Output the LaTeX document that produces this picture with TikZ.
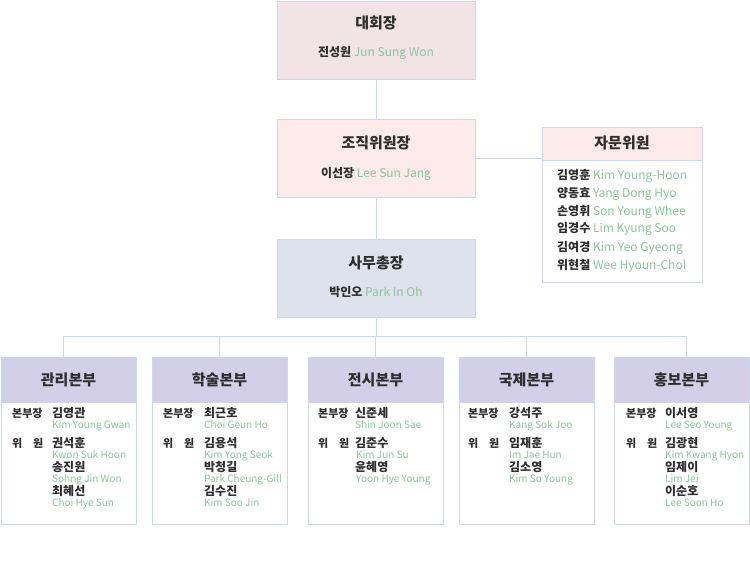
\documentclass[tikz,border=0pt]{standalone}
\usepackage{fontspec}
\setmainfont{Noto Sans CJK KR}
\usepackage{xcolor}
\usetikzlibrary{positioning,calc}

\definecolor{edgeblue}{HTML}{C9D8EE}
\definecolor{chairpink}{HTML}{F2E4E6}
\definecolor{orgpink}{HTML}{FDEAEA}
\definecolor{secgray}{HTML}{DEE2EC}
\definecolor{deptlilac}{HTML}{D3CFE8}
\definecolor{inkgray}{HTML}{2E2E2E}
\definecolor{romangreen}{HTML}{8CC49C}

\newcommand{\engname}[1]{\textcolor{romangreen}{\mdseries #1}}

\begin{document}
\begin{tikzpicture}[
    x=1pt, y=-1pt,
    topbox/.style = {rectangle, draw=edgeblue, line width=0.8pt, outer sep=0pt, minimum width=198pt, minimum height=78pt, inner sep=0pt, anchor=north west},
    deptbox/.style = {rectangle, draw=edgeblue, line width=0.8pt, outer sep=0pt, fill=white, minimum width=135pt, minimum height=167pt, inner sep=0pt, anchor=north west},
    headbox/.style = {rectangle, draw=edgeblue, line width=0.8pt, outer sep=0pt, fill=#1, minimum height=45pt, inner sep=0pt, anchor=north},
    heading/.style = {inner sep=0pt, anchor=base, text=inkgray, font=\fontsize{15}{18}\selectfont\bfseries},
    person/.style = {inner sep=0pt, anchor=base, text=inkgray, font=\fontsize{12}{14}\selectfont\bfseries},
    role/.style = {inner sep=0pt, anchor=base west, text=inkgray, font=\fontsize{11}{13}\selectfont\bfseries},
    kname/.style = {inner sep=0pt, anchor=base west, text=inkgray, font=\fontsize{12}{14}\selectfont\bfseries},
    rname/.style = {inner sep=0pt, anchor=base west, text=romangreen, font=\fontsize{10}{12}\selectfont},
    link/.style = {draw=edgeblue, line width=0.8pt}
]
    \useasboundingbox (0,0) rectangle (750,567);

    % 1. Top chain
    \node [topbox, fill=chairpink] (chair) at (277,1) {};
    \node [heading] (chair_t) at ($(chair.north)+(0,28)$) {대회장};
    \node [person] (chair_n) at ($(chair.north)+(0,56)$) {전성원 \engname{Jun Sung Won}};

    \node [topbox, fill=orgpink, below=40pt of chair] (org) {};
    \node [heading] (org_t) at ($(org.north)+(0,30)$) {조직위원장};
    \node [person] (org_n) at ($(org.north)+(0,59)$) {이선장 \engname{Lee Sun Jang}};

    \node [topbox, fill=secgray, below=42pt of org] (sec) {};
    \node [heading] (sec_t) at ($(sec.north)+(0,29)$) {사무총장};
    \node [person] (sec_n) at ($(sec.north)+(0,57)$) {박인오 \engname{Park In Oh}};

    % 2. Advisory board
    \node [rectangle, draw=edgeblue, line width=0.8pt, outer sep=0pt, fill=white, minimum width=160pt, minimum height=155pt, anchor=north west] (adv) at (542,127) {};
    \node [headbox=orgpink, minimum width=160pt, minimum height=33pt] (adv_h) at (adv.north) {};
    \node [heading] (adv_t) at ($(adv.north)+(0,22)$) {자문위원};
    \node [person, anchor=base west] (adv_1) at ($(adv.north west)+(15,52)$) {김영훈 \engname{Kim Young-Hoon}};
    \node [person, anchor=base west] (adv_2) at ($(adv_1.base west)+(0,18)$) {양동효 \engname{Yang Dong Hyo}};
    \node [person, anchor=base west] (adv_3) at ($(adv_2.base west)+(0,18)$) {손영휘 \engname{Son Young Whee}};
    \node [person, anchor=base west] (adv_4) at ($(adv_3.base west)+(0,18)$) {임경수 \engname{Lim Kyung Soo}};
    \node [person, anchor=base west] (adv_5) at ($(adv_4.base west)+(0,18)$) {김여경 \engname{Kim Yeo Gyeong}};
    \node [person, anchor=base west] (adv_6) at ($(adv_5.base west)+(0,18)$) {위현철 \engname{Wee Hyoun-Chol}};

    % 3. Headquarters
    \node [deptbox] (mgmt) at (1,357) {};
    \node [deptbox, right=16pt of mgmt] (acad) {};
    \node [deptbox, right=21pt of acad] (exhib) {};
    \node [deptbox, right=16pt of exhib] (intl) {};
    \node [deptbox, right=20pt of intl] (pr) {};

    \node [headbox=deptlilac, minimum width=135pt] (mgmt_h) at (mgmt.north) {};
    \node [headbox=deptlilac, minimum width=135pt] (acad_h) at (acad.north) {};
    \node [headbox=deptlilac, minimum width=135pt] (exhib_h) at (exhib.north) {};
    \node [headbox=deptlilac, minimum width=135pt] (intl_h) at (intl.north) {};
    \node [headbox=deptlilac, minimum width=135pt] (pr_h) at (pr.north) {};

    \node [heading] (mgmt_t) at ($(mgmt.north)+(0,28.5)$) {관리본부};
    \node [heading] (acad_t) at ($(acad.north)+(0,28.5)$) {학술본부};
    \node [heading] (exhib_t) at ($(exhib.north)+(0,28.5)$) {전시본부};
    \node [heading] (intl_t) at ($(intl.north)+(0,28.5)$) {국제본부};
    \node [heading] (pr_t) at ($(pr.north)+(0,28.5)$) {홍보본부};

    % management
    \node [role] (mgmt_r1) at ($(mgmt.north west)+(11,60)$) {본부장};
    \node [role] (mgmt_r2) at ($(mgmt_r1.base west)+(0,30)$) {\makebox[31pt][s]{위\hfill 원}};
    \node [kname] (mgmt_k1) at ($(mgmt_r1.base west)+(40,0)$) {김영관};
    \node [rname] (mgmt_e1) at ($(mgmt_k1.base west)+(0,11)$) {Kim Young Gwan};
    \node [kname] (mgmt_k2) at ($(mgmt_r2.base west)+(40,0)$) {권석훈};
    \node [rname] (mgmt_e2) at ($(mgmt_k2.base west)+(0,11)$) {Kwon Suk Hoon};
    \node [kname] (mgmt_k3) at ($(mgmt_k2.base west)+(0,24)$) {송진원};
    \node [rname] (mgmt_e3) at ($(mgmt_k3.base west)+(0,11)$) {Sohng Jin Won};
    \node [kname] (mgmt_k4) at ($(mgmt_k3.base west)+(0,24)$) {최혜선};
    \node [rname] (mgmt_e4) at ($(mgmt_k4.base west)+(0,11)$) {Choi Hye Sun};

    % academic
    \node [role] (acad_r1) at ($(acad.north west)+(11,60)$) {본부장};
    \node [role] (acad_r2) at ($(acad_r1.base west)+(0,30)$) {\makebox[31pt][s]{위\hfill 원}};
    \node [kname] (acad_k1) at ($(acad_r1.base west)+(41,0)$) {최근호};
    \node [rname] (acad_e1) at ($(acad_k1.base west)+(0,11)$) {Choi Geun Ho};
    \node [kname] (acad_k2) at ($(acad_r2.base west)+(41,0)$) {김용석};
    \node [rname] (acad_e2) at ($(acad_k2.base west)+(0,11)$) {Kim Yong Seok};
    \node [kname] (acad_k3) at ($(acad_k2.base west)+(0,24)$) {박청길};
    \node [rname] (acad_e3) at ($(acad_k3.base west)+(0,11)$) {Park Cheung-Gill};
    \node [kname] (acad_k4) at ($(acad_k3.base west)+(0,24)$) {김수진};
    \node [rname] (acad_e4) at ($(acad_k4.base west)+(0,11)$) {Kim Soo Jin};

    % exhibition
    \node [role] (exhib_r1) at ($(exhib.north west)+(10,60)$) {본부장};
    \node [role] (exhib_r2) at ($(exhib_r1.base west)+(0,30)$) {\makebox[31pt][s]{위\hfill 원}};
    \node [kname] (exhib_k1) at ($(exhib_r1.base west)+(37,0)$) {신준세};
    \node [rname] (exhib_e1) at ($(exhib_k1.base west)+(0,11)$) {Shin Joon Sae};
    \node [kname] (exhib_k2) at ($(exhib_r2.base west)+(37,0)$) {김준수};
    \node [rname] (exhib_e2) at ($(exhib_k2.base west)+(1,11)$) {Kim Jun Su};
    \node [kname] (exhib_k3) at ($(exhib_k2.base west)+(0,24)$) {윤혜영};
    \node [rname] (exhib_e3) at ($(exhib_k3.base west)+(1,11)$) {Yoon Hye Young};

    % international
    \node [role] (intl_r1) at ($(intl.north west)+(9,60)$) {본부장};
    \node [role] (intl_r2) at ($(intl_r1.base west)+(0,30)$) {\makebox[31pt][s]{위\hfill 원}};
    \node [kname] (intl_k1) at ($(intl_r1.base west)+(41,0)$) {강석주};
    \node [rname] (intl_e1) at ($(intl_k1.base west)+(0,11)$) {Kang Sok Joo};
    \node [kname] (intl_k2) at ($(intl_r2.base west)+(41,0)$) {임재훈};
    \node [rname] (intl_e2) at ($(intl_k2.base west)+(0,11)$) {Im Jae Hun};
    \node [kname] (intl_k3) at ($(intl_k2.base west)+(0,24)$) {김소영};
    \node [rname] (intl_e3) at ($(intl_k3.base west)+(0,11)$) {Kim So Young};

    % public relations
    \node [role] (pr_r1) at ($(pr.north west)+(12,60)$) {본부장};
    \node [role] (pr_r2) at ($(pr_r1.base west)+(0,30)$) {\makebox[31pt][s]{위\hfill 원}};
    \node [kname] (pr_k1) at ($(pr_r1.base west)+(39,0)$) {이서영};
    \node [rname] (pr_e1) at ($(pr_k1.base west)+(0,11)$) {Lee Seo Young};
    \node [kname] (pr_k2) at ($(pr_r2.base west)+(39,0)$) {김광현};
    \node [rname] (pr_e2) at ($(pr_k2.base west)+(0,11)$) {Kim Kwang Hyon};
    \node [kname] (pr_k3) at ($(pr_k2.base west)+(0,24)$) {임제이};
    \node [rname] (pr_e3) at ($(pr_k3.base west)+(0,11)$) {Lim Jei};
    \node [kname] (pr_k4) at ($(pr_k3.base west)+(0,24)$) {이순호};
    \node [rname] (pr_e4) at ($(pr_k4.base west)+(0,11)$) {Lee Soon Ho};

    % 4. Connections
    \coordinate (bus) at ($(sec.south)+(0,19)$);
    \draw [link] (chair.south) -- (org.north);
    \draw [link] (org.south) -- (sec.north);
    \draw [link] (org.east) -- (org.east -| adv.west);
    \draw [link] (sec.south) -- (bus);
    \draw [link] ($(bus -| mgmt.north)+(-5,0)$) -- ($(bus -| pr.north)+(5,0)$);
    \draw [link] ($(bus -| mgmt.north)+(-5,0)$) -- ($(mgmt.north)+(-5,0)$);
    \draw [link] (bus -| acad.north) -- (acad.north);
    \draw [link] (bus -| exhib.north) -- (exhib.north);
    \draw [link] (bus -| intl.north) -- (intl.north);
    \draw [link] ($(bus -| pr.north)+(5,0)$) -- ($(pr.north)+(5,0)$);

\end{tikzpicture}
\end{document}
